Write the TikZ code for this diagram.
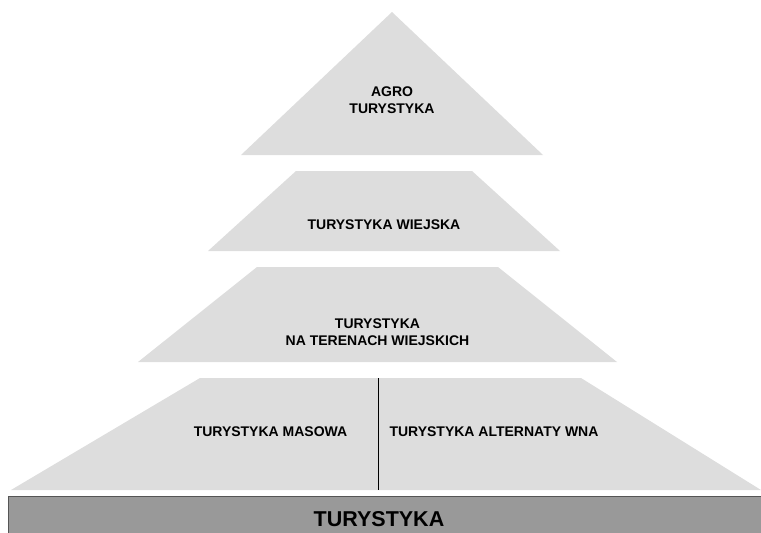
\documentclass[tikz,border=0pt]{standalone}
\usepackage{fontspec}
\setmainfont{Liberation Sans}
\usetikzlibrary{positioning}

\definecolor{layergray}{HTML}{DDDDDD}
\definecolor{basegray}{HTML}{999999}
\definecolor{baseedge}{HTML}{555555}

\begin{document}
\begin{tikzpicture}[x=1pt,y=-1pt,
				layer/.style={fill=layergray,draw=none},
				every node/.style={
						inner sep=0pt,
						align=center,
						font=\bfseries\fontsize{14}{17}\selectfont}]
			\useasboundingbox (0,0) rectangle (761,533);

			% pyramid levels
			\fill[layer] (392,12) -- (543,155) -- (241,155) -- cycle;
			\fill[layer] (296,171) -- (472,171) -- (560,251) -- (208,251) -- cycle;
			\fill[layer] (257,267) -- (498,267) -- (617,362) -- (138,362) -- cycle;
			\fill[layer] (200,378) -- (581,378) -- (761,490) -- (11,490) -- cycle;
			\draw[line width=1pt] (378,378) -- (378,490);

			% base bar
			\draw[fill=basegray,draw=baseedge,line width=1.5pt] (8.5,496.5) rectangle (765,540);

			\node (agro) at (392,100) {AGRO\\TURYSTYKA};
			\node (wiejska) at (384,225) {TURYSTYKA WIEJSKA};
			\node (tereny) at (377.5,332.5) {TURYSTYKA\\NA TERENACH WIEJSKICH};
			\node (masowa) at (270.5,432) {TURYSTYKA MASOWA};
			\node (alter) at (494,432) {TURYSTYKA ALTERNATY WNA};
			\node[font=\bfseries\fontsize{21.5}{24}\selectfont] (base) at (379,519) {TURYSTYKA};

		\end{tikzpicture}
\end{document}
